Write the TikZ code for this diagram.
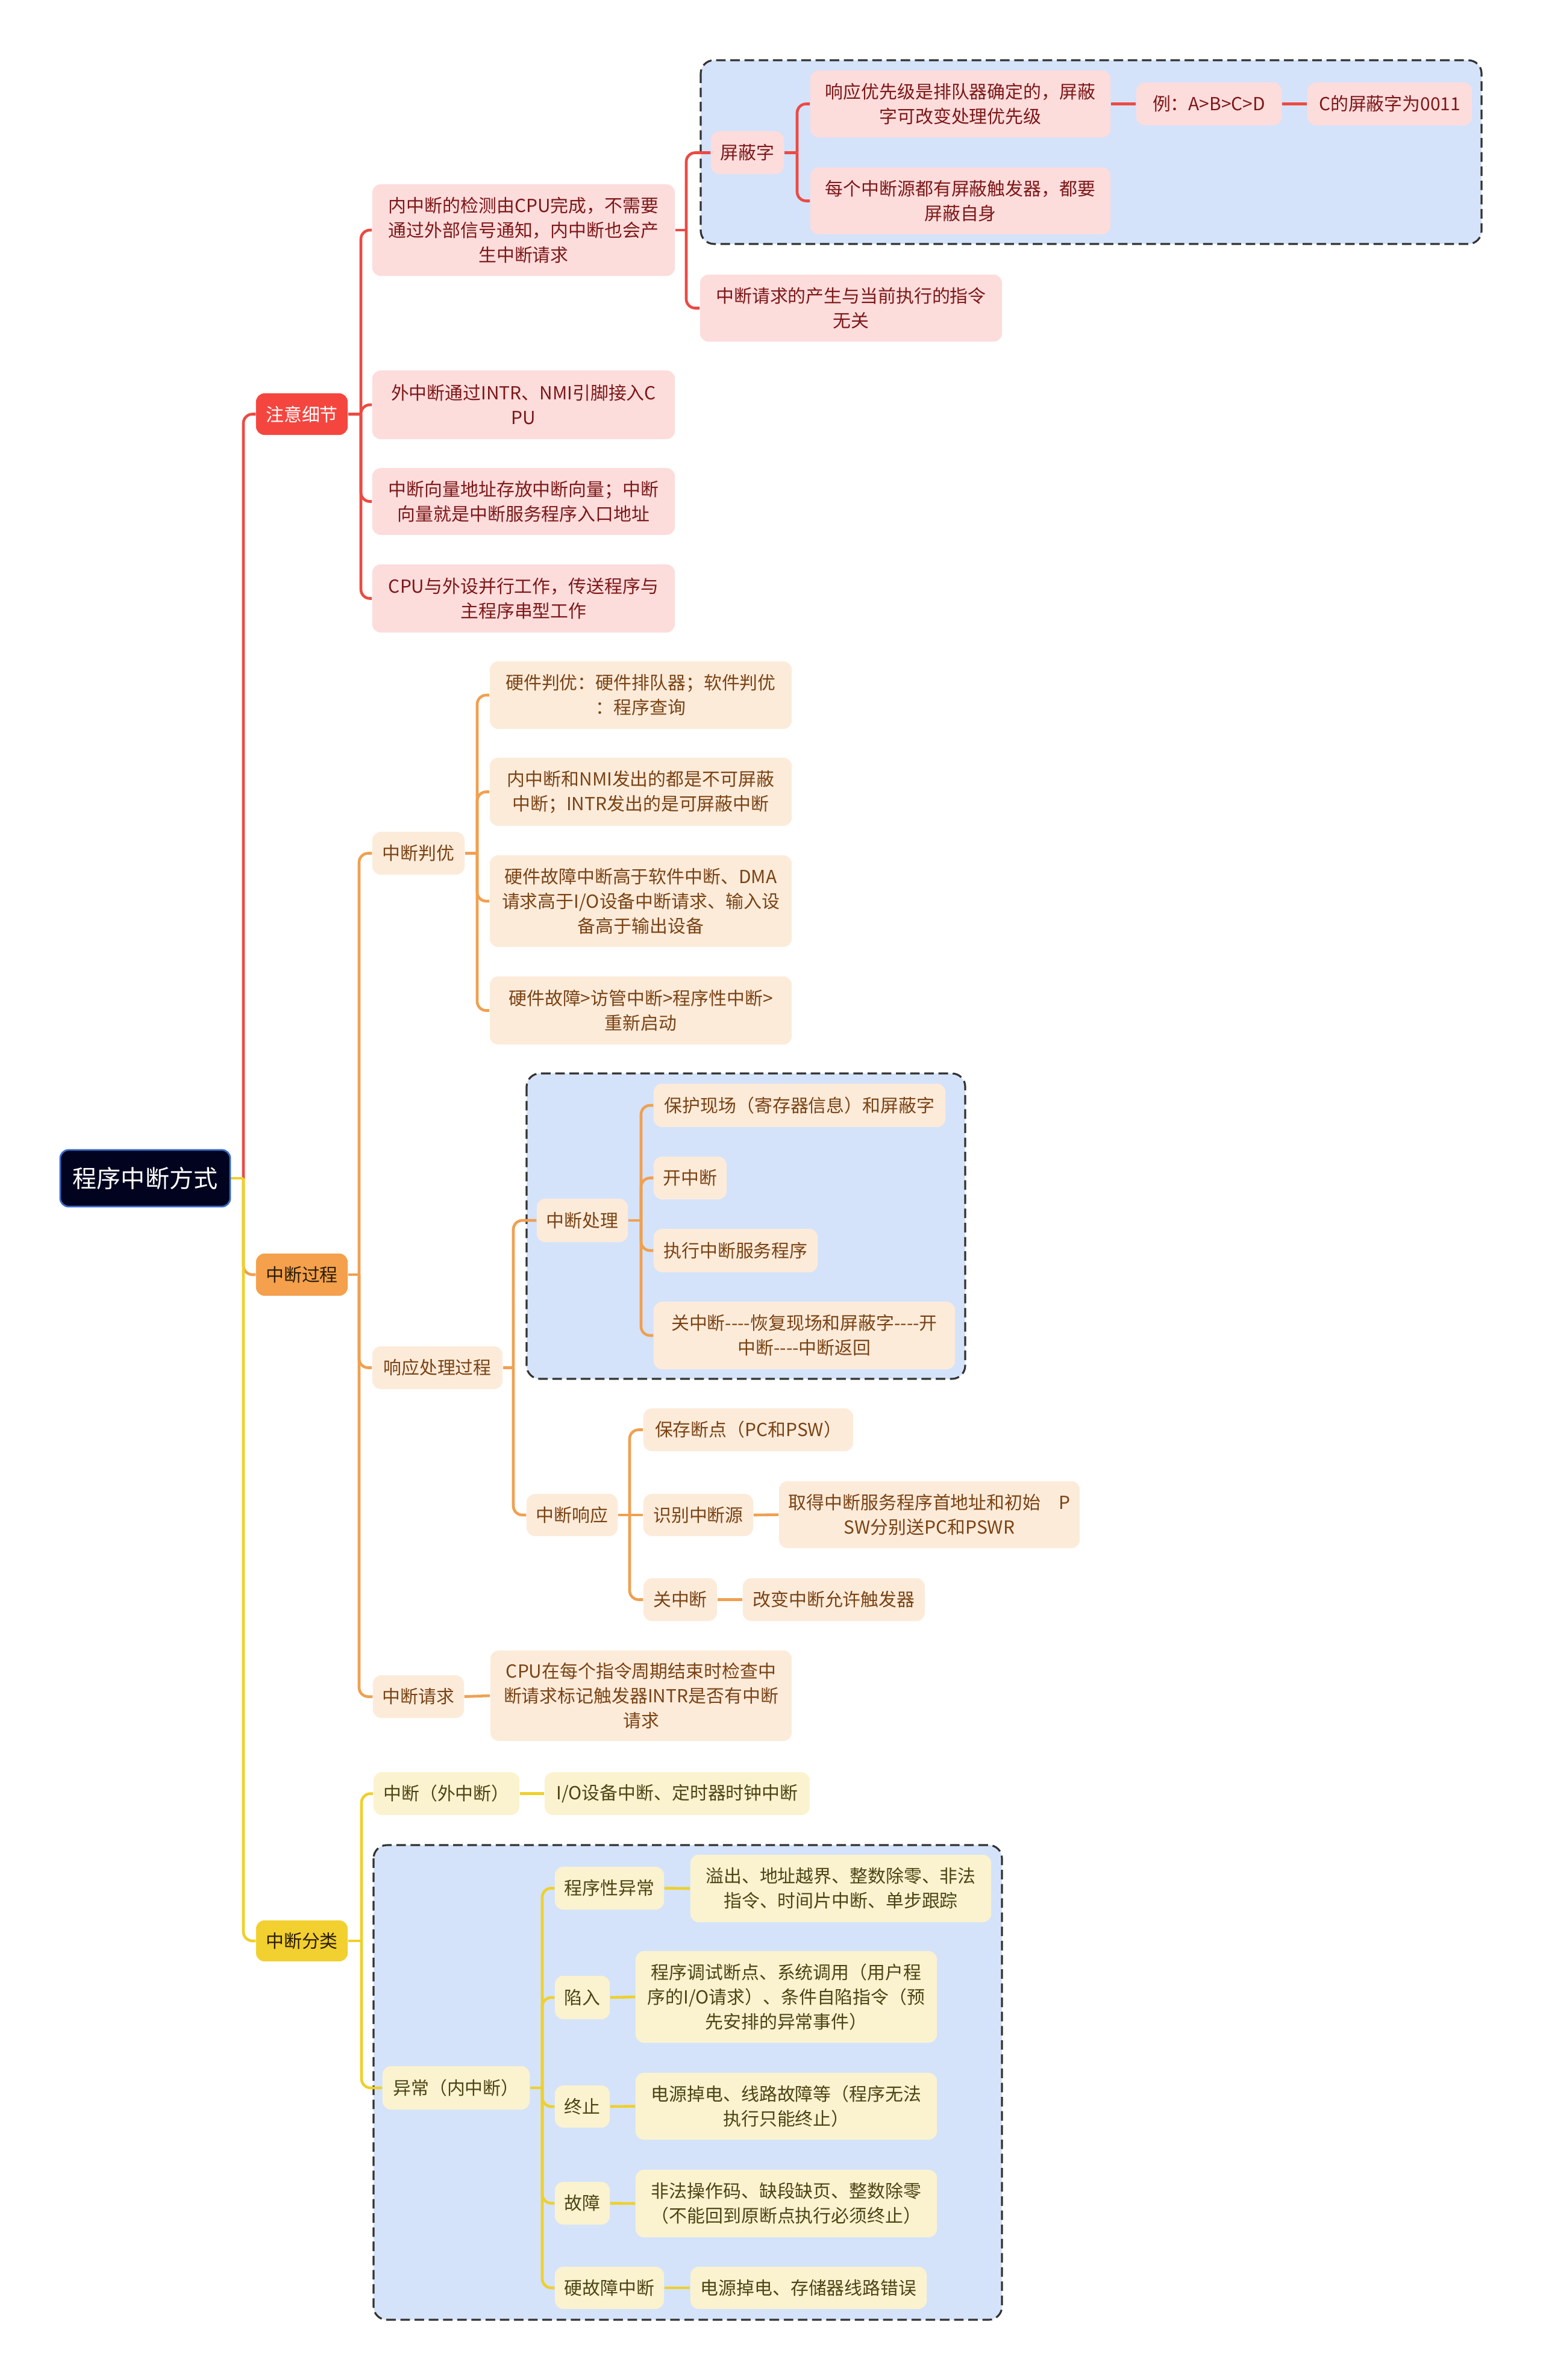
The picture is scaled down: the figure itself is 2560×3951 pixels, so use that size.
\documentclass[tikz,border=0pt]{standalone}
\usepackage{fontspec}
\newfontfamily\cjk{Noto Sans CJK SC}
\usetikzlibrary{calc}
\definecolor{rootF}{HTML}{02031F}
\definecolor{rootB}{HTML}{3A6BC8}
\definecolor{redC}{HTML}{EC4A43}
\definecolor{redL}{HTML}{F4463F}
\definecolor{pinkF}{HTML}{FDDCDC}
\definecolor{pinkT}{HTML}{7D1818}
\definecolor{oraC}{HTML}{F0A050}
\definecolor{oraL}{HTML}{F4A04C}
\definecolor{peachF}{HTML}{FDEBDA}
\definecolor{brownT}{HTML}{7A4314}
\definecolor{yelC}{HTML}{EFD02A}
\definecolor{yelL}{HTML}{F2D030}
\definecolor{creamF}{HTML}{FBF3CF}
\definecolor{oliveT}{HTML}{4D4415}
\definecolor{darkT}{HTML}{2A1C08}
\definecolor{grpF}{HTML}{D4E3FA}
\definecolor{grpB}{HTML}{333333}
\pgfdeclarelayer{boxes}
\pgfdeclarelayer{links}
\pgfsetlayers{boxes,links,main}
\newcommand\mynode[7]{%
  \pgfmathsetmacro\cx{(#3+#5)/2}\pgfmathsetmacro\cy{(#4+#6)/2}%
  \pgfmathsetmacro\ww{(#5-#3)/100}\pgfmathsetmacro\hh{(#6-#4)/100}%
  \node[#2, minimum width=\ww cm, minimum height=\hh cm] (#1) at (\cx,\cy) {#7};}
\newcommand\lnk[4]{%
  \draw[conn,#1,sharp corners] (#2.east) -- (#2.east -| #3);
  \draw[conn,#1] (#2.east -| #3) |- (#4.west);}
\newcommand\straight[3]{\draw[conn,#1] (#2.east) -- (#3.west);}
\tikzset{
  base/.style={inner sep=0pt, align=center, rounded corners=0.14cm,
    font=\cjk\fontsize{8.5pt}{11.67pt}\selectfont},
  rootbox/.style={base, fill=rootF, draw=rootB, line width=0.8pt, text=white,
    font=\cjk\fontsize{11.4pt}{14pt}\selectfont},
  redtop/.style={base, fill=redL, text=white},
  pinkbox/.style={base, fill=pinkF, text=pinkT},
  oratop/.style={base, fill=oraL, text=darkT},
  peachbox/.style={base, fill=peachF, text=brownT},
  yeltop/.style={base, fill=yelL, text=darkT},
  creambox/.style={base, fill=creamF, text=oliveT},
  conn/.style={line width=1.3pt, rounded corners=0.15cm},
  grp/.style={fill=grpF, draw=grpB, line width=0.9pt, rounded corners=0.22cm,
    dash pattern=on 4.5pt off 2.2pt}
}
\begin{document}
\begin{tikzpicture}[x=0.01cm,y=-0.01cm]
\useasboundingbox (0,0) rectangle (2560,3951);
\begin{pgfonlayer}{boxes}
\fill[white] (0,0) rectangle (2560,3951);
\draw[grp] (1163,100) rectangle (2459,405);
\draw[grp] (874,1782) rectangle (1602,2289);
\draw[grp] (620,3063) rectangle (1663,3851);
\end{pgfonlayer}

% vertical connector positions
\coordinate (v0) at (404,0);
\coordinate (vA) at (599,0);
\coordinate (vA1) at (1139,0);
\coordinate (vM) at (1323,0);
\coordinate (vB) at (596,0);
\coordinate (vJ) at (792,0);
\coordinate (vX) at (852,0);
\coordinate (vH) at (1064,0);
\coordinate (vR) at (1045,0);
\coordinate (vC) at (600,0);
\coordinate (vE) at (900,0);

% root and level 1
\mynode{root}{rootbox}{100}{1909}{382}{2003}{程序中断方式}
\mynode{n1}{redtop}{425}{653}{577}{722}{注意细节}
\mynode{n2}{oratop}{425}{2081}{577}{2151}{中断过程}
\mynode{n3}{yeltop}{425}{3188}{577}{3256}{中断分类}

% 注意细节
\mynode{c1}{pinkbox}{618}{306}{1120}{458}{内中断的检测由CPU完成，不需要\\通过外部信号通知，内中断也会产\\生中断请求}
\mynode{c2}{pinkbox}{618}{615}{1120}{729}{外中断通过INTR、NMI引脚接入C\\PU}
\mynode{c3}{pinkbox}{618}{777}{1120}{888}{中断向量地址存放中断向量；中断\\向量就是中断服务程序入口地址}
\mynode{c4}{pinkbox}{618}{937}{1120}{1050}{CPU与外设并行工作，传送程序与\\主程序串型工作}
\mynode{m1}{pinkbox}{1180}{218}{1301}{289}{屏蔽字}
\mynode{m11}{pinkbox}{1345}{117}{1843}{228}{响应优先级是排队器确定的，屏蔽\\字可改变处理优先级}
\mynode{m12}{pinkbox}{1345}{278}{1843}{389}{每个中断源都有屏蔽触发器，都要\\屏蔽自身}
\mynode{m111}{pinkbox}{1886}{137}{2127}{208}{例：A>B>C>D}
\mynode{m1111}{pinkbox}{2170}{137}{2443}{208}{C的屏蔽字为0011}
\mynode{m2}{pinkbox}{1162}{456}{1663}{567}{中断请求的产生与当前执行的指令\\无关}

% 中断过程
\mynode{j}{peachbox}{618}{1381}{771}{1452}{中断判优}
\mynode{j1}{peachbox}{813}{1098}{1314}{1210}{硬件判优：硬件排队器；软件判优\\：程序查询}
\mynode{j2}{peachbox}{813}{1258}{1314}{1371}{内中断和NMI发出的都是不可屏蔽\\中断；INTR发出的是可屏蔽中断}
\mynode{j3}{peachbox}{813}{1420}{1314}{1572}{硬件故障中断高于软件中断、DMA\\请求高于I/O设备中断请求、输入设\\备高于输出设备}
\mynode{j4}{peachbox}{813}{1621}{1314}{1734}{硬件故障>访管中断>程序性中断>\\重新启动}
\mynode{x}{peachbox}{618}{2235}{834}{2306}{响应处理过程}
\mynode{h}{peachbox}{891}{1990}{1042}{2062}{中断处理}
\mynode{p1}{peachbox}{1085}{1799}{1569}{1871}{保护现场（寄存器信息）和屏蔽字}
\mynode{p2}{peachbox}{1085}{1920}{1206}{1991}{开中断}
\mynode{p3}{peachbox}{1085}{2040}{1357}{2112}{执行中断服务程序}
\mynode{p4}{peachbox}{1085}{2161}{1585}{2273}{关中断----恢复现场和屏蔽字----开\\中断----中断返回}
\mynode{r}{peachbox}{874}{2480}{1025}{2550}{中断响应}
\mynode{r1}{peachbox}{1068}{2338}{1416}{2409}{保存断点（PC和PSW）}
\mynode{r2}{peachbox}{1068}{2480}{1250}{2550}{识别中断源}
\mynode{r21}{peachbox}{1293}{2459}{1792}{2570}{取得中断服务程序首地址和初始\quad P\\SW分别送PC和PSWR}
\mynode{r3}{peachbox}{1068}{2620}{1190}{2691}{关中断}
\mynode{r31}{peachbox}{1233}{2620}{1535}{2691}{改变中断允许触发器}
\mynode{q}{peachbox}{619}{2781}{770}{2852}{中断请求}
\mynode{q1}{peachbox}{814}{2740}{1314}{2890}{CPU在每个指令周期结束时检查中\\断请求标记触发器INTR是否有中断\\请求}

% 中断分类
\mynode{f}{creambox}{620}{2942}{862}{3013}{中断（外中断）}
\mynode{f1}{creambox}{904}{2942}{1344}{3013}{I/O设备中断、定时器时钟中断}
\mynode{e}{creambox}{635}{3430}{879}{3502}{异常（内中断）}
\mynode{e1}{creambox}{921}{3099}{1102}{3170}{程序性异常}
\mynode{e11}{creambox}{1146}{3079}{1645}{3191}{溢出、地址越界、整数除零、非法\\指令、时间片中断、单步跟踪}
\mynode{e2}{creambox}{921}{3280}{1012}{3352}{陷入}
\mynode{e21}{creambox}{1055}{3239}{1555}{3391}{程序调试断点、系统调用（用户程\\序的I/O请求）、条件自陷指令（预\\先安排的异常事件）}
\mynode{e3}{creambox}{921}{3462}{1012}{3532}{终止}
\mynode{e31}{creambox}{1055}{3441}{1555}{3552}{电源掉电、线路故障等（程序无法\\执行只能终止）}
\mynode{e4}{creambox}{921}{3622}{1012}{3693}{故障}
\mynode{e41}{creambox}{1055}{3602}{1555}{3714}{非法操作码、缺段缺页、整数除零\\（不能回到原断点执行必须终止）}
\mynode{e5}{creambox}{921}{3763}{1102}{3833}{硬故障中断}
\mynode{e51}{creambox}{1146}{3763}{1538}{3833}{电源掉电、存储器线路错误}

\begin{pgfonlayer}{links}
% trunk
\lnk{redC}{root}{v0}{n1}
\lnk{oraC}{root}{v0}{n2}
\lnk{yelC}{root}{v0}{n3}
% 注意细节
\lnk{redC}{n1}{vA}{c1}
\lnk{redC}{n1}{vA}{c2}
\lnk{redC}{n1}{vA}{c3}
\lnk{redC}{n1}{vA}{c4}
\lnk{redC}{c1}{vA1}{m1}
\lnk{redC}{c1}{vA1}{m2}
\lnk{redC}{m1}{vM}{m11}
\lnk{redC}{m1}{vM}{m12}
\straight{redC}{m11}{m111}
\straight{redC}{m111}{m1111}
% 中断过程
\lnk{oraC}{n2}{vB}{j}
\lnk{oraC}{n2}{vB}{x}
\lnk{oraC}{n2}{vB}{q}
\lnk{oraC}{j}{vJ}{j1}
\lnk{oraC}{j}{vJ}{j2}
\lnk{oraC}{j}{vJ}{j3}
\lnk{oraC}{j}{vJ}{j4}
\lnk{oraC}{x}{vX}{h}
\lnk{oraC}{x}{vX}{r}
\lnk{oraC}{h}{vH}{p1}
\lnk{oraC}{h}{vH}{p2}
\lnk{oraC}{h}{vH}{p3}
\lnk{oraC}{h}{vH}{p4}
\lnk{oraC}{r}{vR}{r1}
\straight{oraC}{r}{r2}
\lnk{oraC}{r}{vR}{r3}
\straight{oraC}{r2}{r21}
\straight{oraC}{r3}{r31}
\straight{oraC}{q}{q1}
% 中断分类
\lnk{yelC}{n3}{vC}{f}
\lnk{yelC}{n3}{vC}{e}
\straight{yelC}{f}{f1}
\lnk{yelC}{e}{vE}{e1}
\lnk{yelC}{e}{vE}{e2}
\lnk{yelC}{e}{vE}{e3}
\lnk{yelC}{e}{vE}{e4}
\lnk{yelC}{e}{vE}{e5}
\straight{yelC}{e1}{e11}
\straight{yelC}{e2}{e21}
\straight{yelC}{e3}{e31}
\straight{yelC}{e4}{e41}
\straight{yelC}{e5}{e51}
\end{pgfonlayer}
\end{tikzpicture}
\end{document}
